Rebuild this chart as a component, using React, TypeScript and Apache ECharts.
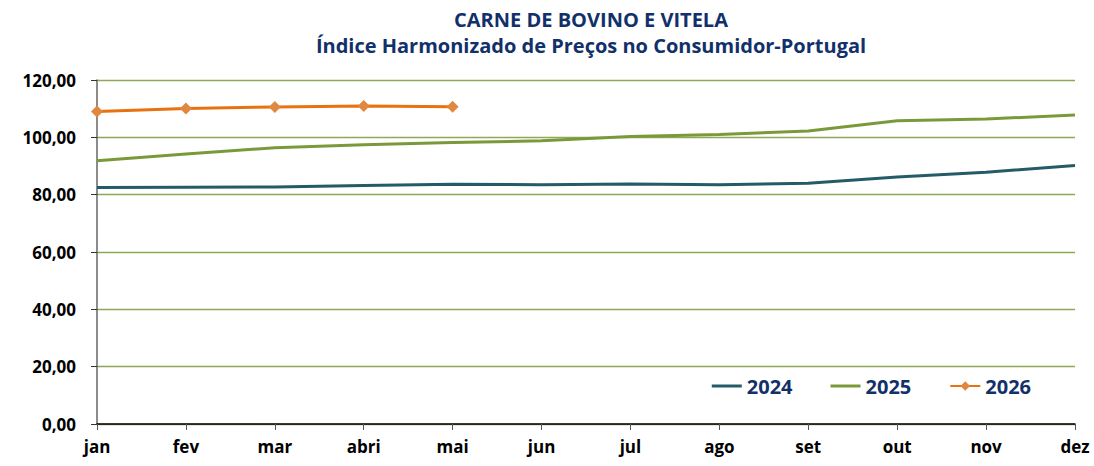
import React, { useEffect, useRef } from "react";
import * as echarts from "echarts";

const months = ["jan", "fev", "mar", "abri", "mai", "jun", "jul", "ago", "set", "out", "nov", "dez"];
const s2024 = [82.5, 82.6, 82.7, 83.2, 83.6, 83.5, 83.7, 83.5, 84.0, 86.2, 87.8, 90.2];
const s2025 = [91.8, 94.2, 96.4, 97.4, 98.2, 98.8, 100.3, 101.0, 102.2, 105.8, 106.4, 107.8];
const s2026 = [109.0, 110.1, 110.6, 110.9, 110.7];
const yTicks = { min: 0, max: 120, interval: 20 };

const FONT = "'Open Sans', sans-serif";
const NAVY = "#12306A";
const barIcon = "path://M0,0H30V3H0Z";

export default function App() {
  const ref = useRef<HTMLDivElement>(null);
  useEffect(() => {
    const chart = echarts.init(ref.current!, null, { renderer: "svg" });
    chart.setOption({
      animation: false,
      title: {
        text: "CARNE DE BOVINO E VITELA",
        subtext: "Índice Harmonizado de Preços no Consumidor-Portugal",
        left: 586,
        textAlign: "center",
        top: 4,
        itemGap: 6,
        textStyle: { color: NAVY, fontSize: 20, fontWeight: "bold", fontFamily: FONT },
        subtextStyle: { color: NAVY, fontSize: 20, fontWeight: "bold", fontFamily: FONT },
      },
      legend: {
        right: 58,
        top: 371,
        itemGap: 38,
        itemWidth: 30,
        itemHeight: 12,
        textStyle: { color: NAVY, fontSize: 20, fontWeight: "bold", fontFamily: FONT },
        data: [
          { name: "2024", icon: barIcon },
          { name: "2025", icon: barIcon },
          { name: "2026" },
        ],
      },
      grid: { left: 97, right: 19, top: 80, bottom: 42 },
      xAxis: {
        type: "category",
        data: months,
        boundaryGap: false,
        axisLine: { lineStyle: { color: "#000", width: 1.5 } },
        axisTick: { show: true, alignWithLabel: true, length: 6, lineStyle: { color: "#555" } },
        axisLabel: { color: "#000", fontSize: 17, fontWeight: "bold", fontFamily: FONT, margin: 14, interval: 0 },
        splitLine: { show: false },
      },
      yAxis: {
        type: "value",
        min: yTicks.min,
        max: yTicks.max,
        interval: yTicks.interval,
        axisLine: { show: true, lineStyle: { color: "#666", width: 1.5 } },
        axisTick: { show: true, length: 6, lineStyle: { color: "#333" } },
        axisLabel: {
          color: "#000",
          fontSize: 17,
          fontWeight: "bold",
          fontFamily: FONT,
          margin: 21,
          formatter: (v: number) => v.toFixed(2).replace(".", ","),
        },
        splitLine: { show: true, lineStyle: { color: "#8FA858", width: 1.3 } },
      },
      series: [
        {
          name: "2024",
          type: "line",
          data: s2024,
          symbol: "none",
          lineStyle: { color: "#245B68", width: 3 },
          itemStyle: { color: "#245B68" },
        },
        {
          name: "2025",
          type: "line",
          data: s2025,
          symbol: "none",
          lineStyle: { color: "#7A9A3A", width: 3 },
          itemStyle: { color: "#7A9A3A" },
        },
        {
          name: "2026",
          type: "line",
          data: s2026,
          symbol: "diamond",
          symbolSize: 12,
          lineStyle: { color: "#E8720F", width: 3 },
          itemStyle: { color: "#E08840" },
        },
      ],
    });
    return () => chart.dispose();
  }, []);
  return <div ref={ref} style={{ width: 1094, height: 466, position: "absolute", left: 0, top: 0 }} />;
}
